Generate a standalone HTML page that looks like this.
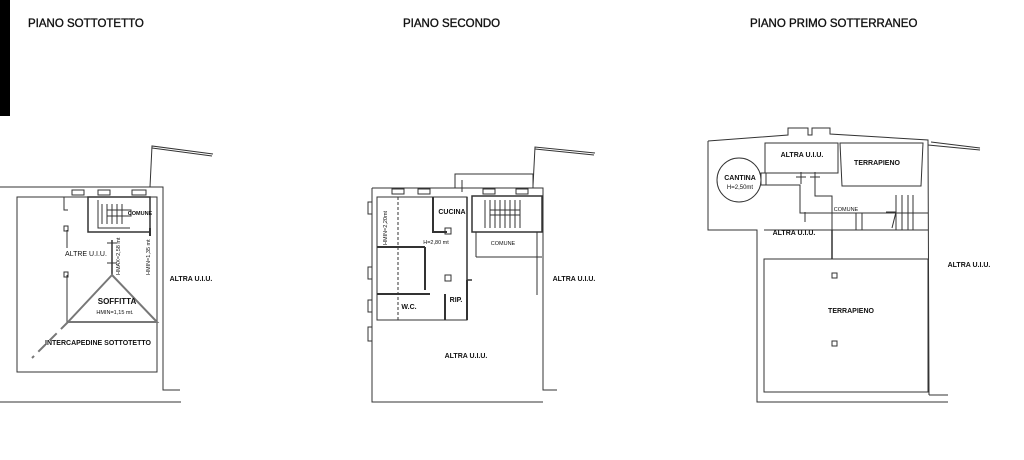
<!DOCTYPE html>
<html><head><meta charset="utf-8"><style>
html,body{margin:0;padding:0;background:#fff;}
svg{display:block;}
text{font-family:"Liberation Sans",sans-serif;fill:#111;}
.t{font-size:11.5px;stroke:#111;stroke-width:0.35px;}
.l{font-size:7px;font-weight:bold;}
.s{font-size:5.5px;}
</style></head><body>
<svg width="1024" height="460" viewBox="0 0 1024 460" xmlns="http://www.w3.org/2000/svg">
<rect x="0" y="0" width="10" height="116" fill="#000"/>
<text class="t" x="28" y="27">PIANO SOTTOTETTO</text>
<text class="t" x="403" y="27">PIANO SECONDO</text>
<text class="t" x="750" y="27">PIANO PRIMO SOTTERRANEO</text>

<g fill="none" stroke="#333" stroke-width="1">
<!-- PLAN 1 -->
<polyline points="0,187 163,187 163,390 180,390"/>
<line x1="0" y1="402" x2="181" y2="402"/>
<polyline points="150,187 152,146 213,154"/>
<polyline points="152,148 212,156"/>
<rect x="17" y="197" width="140" height="175"/>
<polyline points="64,197 64,210 68,210"/>
<rect x="88" y="197" width="62" height="35" stroke-width="1.5"/>
<polyline points="98,200 98,228 130,228"/>
<line x1="102" y1="204" x2="102" y2="224"/><line x1="107" y1="204" x2="107" y2="224"/>
<line x1="112" y1="204" x2="112" y2="224"/><line x1="117" y1="204" x2="117" y2="224"/>
<line x1="122" y1="204" x2="122" y2="224"/>
<rect x="107" y="210" width="24" height="6"/>
<rect x="72" y="190" width="12" height="5"/><rect x="98" y="190" width="12" height="5"/><rect x="132" y="190" width="14" height="5"/>
<line x1="67" y1="230" x2="67" y2="248"/><rect x="64" y="226" width="4" height="5"/>
<line x1="67" y1="275" x2="67" y2="322"/><rect x="64" y="272" width="4" height="5"/>
<line x1="112" y1="240" x2="112" y2="275" stroke-width="1.5"/>
<line x1="107" y1="243" x2="117" y2="243"/><line x1="107" y1="263" x2="117" y2="263"/>
<polygon points="112,275 68,322 157,322" stroke-width="2" stroke="#777"/>
<line x1="68" y1="322" x2="32" y2="358" stroke-width="2" stroke="#777" stroke-dasharray="10,6"/>
<line x1="150" y1="228" x2="150" y2="236" stroke-width="2"/>
<!-- PLAN 2 -->
<polyline points="372,188 543,188 543,390 557,390"/>
<polyline points="372,188 372,402 543,402"/>
<polyline points="455,188 455,174 533,174 533,188"/>
<polyline points="533,186 535,147 595,153"/>
<polyline points="535,149 594,155"/>
<rect x="377" y="197" width="90" height="123"/>
<line x1="398" y1="197" x2="398" y2="320" stroke-dasharray="3,2"/>
<line x1="377" y1="247" x2="425" y2="247" stroke-width="2"/>
<line x1="425" y1="247" x2="425" y2="290" stroke-width="2"/>
<line x1="377" y1="294" x2="430" y2="294" stroke-width="2"/>
<line x1="445" y1="294" x2="445" y2="320" stroke-width="2"/>
<polyline points="433,197 433,232 447,232" stroke-width="2"/>
<polyline points="467,197 467,280 472,280" stroke-width="1.5"/>
<polyline points="467,280 467,320" stroke-width="2"/>
<rect x="472" y="196" width="70" height="36" stroke-width="1.5"/>
<line x1="476" y1="232" x2="476" y2="257"/><line x1="476" y1="257" x2="542" y2="257"/>
<line x1="485" y1="200" x2="485" y2="228"/><line x1="490" y1="200" x2="490" y2="228"/><line x1="495" y1="200" x2="495" y2="228"/>
<line x1="500" y1="200" x2="500" y2="228"/><line x1="505" y1="200" x2="505" y2="228"/><line x1="510" y1="200" x2="510" y2="228"/>
<line x1="515" y1="200" x2="515" y2="228"/><line x1="520" y1="200" x2="520" y2="228"/>
<rect x="490" y="210" width="30" height="5"/>
<line x1="537" y1="232" x2="537" y2="295"/>
<rect x="368" y="202" width="4" height="12"/><rect x="368" y="267" width="4" height="12"/><rect x="368" y="300" width="4" height="12"/><rect x="368" y="327" width="4" height="14"/>
<rect x="392" y="189" width="12" height="5"/><rect x="418" y="189" width="12" height="5"/><rect x="483" y="189" width="12" height="5"/><rect x="516" y="189" width="12" height="5"/>
<rect x="445" y="228" width="6" height="6"/><rect x="445" y="275" width="6" height="6"/>
<line x1="462" y1="180" x2="462" y2="192"/><line x1="467" y1="240" x2="467" y2="250"/>
<!-- PLAN 3 -->
<polyline points="929,395 948,395"/>
<polyline points="708,141 788,135 788,128 808,128 808,135 812,135 812,128 830,128 830,134 928,140 929,395"/>
<polyline points="708,141 708,230 757,230 757,402 948,402"/>
<polyline points="928,145 980,150"/><polyline points="931,142 980,148"/>
<rect x="764" y="259" width="164" height="133"/>
<circle cx="739" cy="180" r="22"/>
<rect x="761" y="173" width="5" height="12" fill="#fff"/>
<polyline points="764,173 838,173 838,143 765,143 765,173"/>
<polygon points="840,143 923,143 921,186 842,186"/>
<polyline points="764,185 800,185 800,213 832,213 832,230 764,230"/>
<polyline points="815,173 815,196 832,196 832,213 928,213"/>
<line x1="856" y1="213" x2="856" y2="230"/>
<line x1="862" y1="213" x2="862" y2="230"/>
<line x1="832" y1="230" x2="928" y2="230"/>
<line x1="832" y1="230" x2="832" y2="259" stroke-width="1.5"/>
<line x1="896" y1="195" x2="896" y2="230"/><line x1="902" y1="195" x2="902" y2="230"/><line x1="908" y1="195" x2="908" y2="230"/><line x1="913" y1="195" x2="913" y2="230"/>
<polyline points="886,212 896,212 892,228"/>
<line x1="796" y1="177" x2="806" y2="177"/><line x1="801" y1="172" x2="801" y2="184"/>
<line x1="810" y1="177" x2="820" y2="177"/><line x1="815" y1="172" x2="815" y2="184"/>
<line x1="805" y1="212" x2="805" y2="222"/>
<rect x="832" y="273" width="5" height="5"/><rect x="832" y="341" width="5" height="5"/>
</g>

<g text-anchor="middle">
<text class="l" x="140" y="215" style="font-size:5.5px">COMUNE</text>
<text class="l" x="86" y="256" style="font-weight:normal">ALTRE U.I.U.</text>
<text class="l" x="117" y="304" style="font-size:8px">SOFFITTA</text>
<text class="s" x="115" y="314">HMIN=1,15 mt.</text>
<text class="l" x="98" y="345">INTERCAPEDINE SOTTOTETTO</text>
<text class="l" x="191" y="281">ALTRA U.I.U.</text>
<text class="l" x="452" y="214">CUCINA</text>
<text class="s" x="436" y="244">H=2,80 mt</text>
<text class="s" x="503" y="245">COMUNE</text>
<text class="l" x="409" y="309">W.C.</text>
<text class="l" x="456" y="302">RIP.</text>
<text class="l" x="574" y="281">ALTRA U.I.U.</text>
<text class="l" x="466" y="358">ALTRA U.I.U.</text>
<text class="l" x="740" y="180">CANTINA</text>
<text class="s" x="740" y="189" style="font-size:6px">H=2,50mt</text>
<text class="l" x="802" y="157">ALTRA U.I.U.</text>
<text class="l" x="877" y="165">TERRAPIENO</text>
<text class="s" x="846" y="211">COMUNE</text>
<text class="l" x="794" y="235">ALTRA U.I.U.</text>
<text class="l" x="969" y="267">ALTRA U.I.U.</text>
<text class="l" x="851" y="313">TERRAPIENO</text>
</g>
<text class="s" transform="translate(387,245) rotate(-90)">HMIN=2,20mt</text>
<text class="s" transform="translate(120,275) rotate(-90)">HMAX=2,58 mt</text>
<text class="s" transform="translate(150,275) rotate(-90)">HMIN=1,35 mt</text>
</svg>
</body></html>
